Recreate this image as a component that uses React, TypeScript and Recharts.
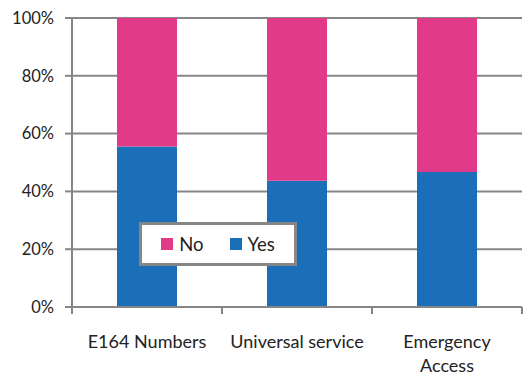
import { BarChart, Bar, XAxis, YAxis, CartesianGrid, Legend } from "recharts";

const categories = ["E164 Numbers", "Universal service", "Emergency Access"];
const yesValues = [55.5, 43.7, 46.7];
const noValues = [44.5, 56.3, 53.3];
const yTicks = [0, 20, 40, 60, 80, 100];

const data = categories.map((name, i) => ({ name, yes: yesValues[i], no: noValues[i] }));

const FONT = "Lato, 'Open Sans', sans-serif";
const GRAY = "#868686";
const PINK = "#e03a89";
const BLUE = "#1b6eb8";
const LABEL_SIZE = 18;

// wrap words to fit a max width, measured with a canvas
const measureCtx = typeof document !== "undefined" ? document.createElement("canvas").getContext("2d") : null;
function wrapLabel(text: string, maxWidth: number): string[] {
  if (!measureCtx) return [text];
  measureCtx.font = `${LABEL_SIZE}px Lato`;
  const words = text.split(" ");
  const lines: string[] = [];
  let cur = "";
  for (const w of words) {
    const next = cur ? `${cur} ${w}` : w;
    if (cur && measureCtx.measureText(next).width > maxWidth) {
      lines.push(cur);
      cur = w;
    } else {
      cur = next;
    }
  }
  if (cur) lines.push(cur);
  return lines;
}

function CategoryTick(props: any) {
  const { x, y, payload, index } = props;
  const half = payload?.offset ?? 75;
  const lines = wrapLabel(String(payload.value), 140);
  return (
    <g>
      <line x1={x - half} y1={y - 8} x2={x - half} y2={y - 1} stroke={GRAY} strokeWidth={2} />
      {index === categories.length - 1 && (
        <line x1={x + half} y1={y - 8} x2={x + half} y2={y - 1} stroke={GRAY} strokeWidth={2} />
      )}
      <text x={x} y={y + 33} textAnchor="middle" fill="#222" fontSize={LABEL_SIZE} fontFamily={FONT}>
        {lines.map((l, i) => (
          <tspan key={i} x={x} dy={i === 0 ? 0 : 24}>{l}</tspan>
        ))}
      </text>
    </g>
  );
}

function LegendBox() {
  const items = [
    { label: "No", color: PINK },
    { label: "Yes", color: BLUE },
  ];
  return (
    <div style={{
      width: 152,
      height: 38,
      border: `3px solid ${GRAY}`,
      background: "#fff",
      display: "flex",
      alignItems: "center",
      justifyContent: "center",
      gap: 26,
      fontFamily: FONT,
      fontSize: 18.5,
      color: "#222",
      boxSizing: "content-box",
    }}>
      {items.map((it) => (
        <span key={it.label} style={{ display: "flex", alignItems: "center", gap: 6 }}>
          <span style={{ width: 12, height: 12, background: it.color, display: "inline-block" }} />
          {it.label}
        </span>
      ))}
    </div>
  );
}

export default function App() {
  return (
    <div style={{ position: "absolute", left: 0, top: 0, background: "#fff" }}>
      <BarChart
        width={527}
        height={374}
        data={data}
        margin={{ top: 18, right: 5, bottom: 0, left: 0 }}
        barCategoryGap="30%"
      >
        <CartesianGrid vertical={false} stroke={GRAY} strokeWidth={2} />
        <XAxis
          dataKey="name"
          axisLine={{ stroke: GRAY, strokeWidth: 2 }}
          tickLine={false}
          tick={<CategoryTick />}
          interval={0}
          height={67}
        />
        <YAxis
          domain={[0, 100]}
          ticks={yTicks}
          width={72}
          tickFormatter={(v: number) => `${v}%`}
          axisLine={{ stroke: GRAY, strokeWidth: 2 }}
          tickLine={{ stroke: GRAY, strokeWidth: 2 }}
          tickSize={7}
          tickMargin={11}
          tick={{ fill: "#222", fontSize: 16.5, fontFamily: FONT }}
        />
        <Legend
          layout="horizontal"
          verticalAlign="middle"
          content={<LegendBox />}
          wrapperStyle={{ left: 139, top: 222, width: "auto" }}
        />
        <Bar dataKey="yes" name="Yes" stackId="a" fill={BLUE} isAnimationActive={false} />
        <Bar dataKey="no" name="No" stackId="a" fill={PINK} isAnimationActive={false} />
      </BarChart>
    </div>
  );
}
